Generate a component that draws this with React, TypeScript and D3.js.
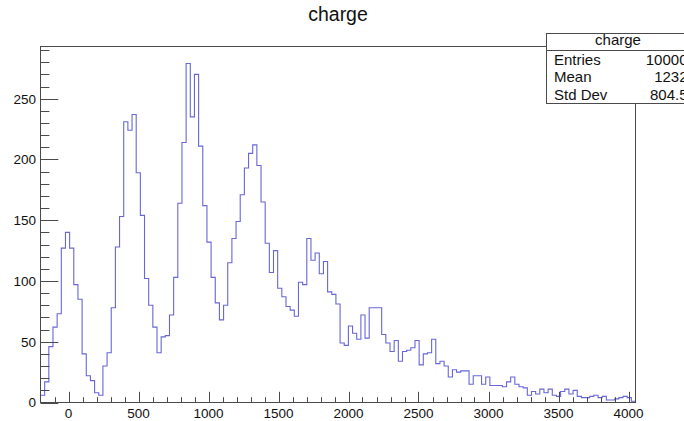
import React from "react";
import * as d3 from "d3";

const histTitle = "charge";
const xMin = -200;
const xMax = 4050;
const counts = [
  6, 17, 46, 62, 73, 127, 140, 127, 97, 85,
  40, 22, 18, 8, 6, 30, 41, 78, 128, 153,
  231, 224, 237, 189, 154, 102, 80, 62, 41, 54,
  55, 72, 103, 164, 214, 279, 235, 270, 211, 162,
  132, 103, 82, 68, 80, 115, 135, 149, 171, 193,
  205, 212, 195, 165, 131, 107, 125, 94, 87, 79,
  76, 71, 99, 97, 135, 117, 123, 106, 116, 91,
  89, 81, 49, 47, 63, 57, 52, 72, 53, 78,
  78, 78, 56, 49, 42, 51, 34, 42, 43, 45,
  51, 31, 40, 41, 52, 32, 34, 30, 21, 27,
  25, 26, 26, 15, 22, 22, 15, 21, 14, 14,
  14, 13, 17, 21, 15, 13, 12, 6, 9, 7,
  11, 8, 11, 6, 5, 9, 11, 7, 10, 5,
  4, 4, 5, 6, 4, 5, 2, 2, 3, 4,
  5, 4, 1,
];
const xMajorTicks = [0, 500, 1000, 1500, 2000, 2500, 3000, 3500, 4000];
const yMajorTicks = [0, 50, 100, 150, 200, 250];
const statLabels = ["Entries", "Mean", "Std Dev"];
const statValues = ["10000", "1232", "804.5"];

const FONT = "'Liberation Sans', Arial, Helvetica, sans-serif";

export default function App() {
  const W = 684;
  const H = 421;
  const fl = 40.5, fr = 635.5, ft = 46.5, fb = 402.5;

  const x = d3.scaleLinear().domain([xMin, xMax]).range([fl, fr]);
  const yTop = (d3.max(counts) as number) * 1.05;
  const y = d3.scaleLinear().domain([0, yTop]).range([fb, ft]);

  const n = counts.length;
  const bw = (xMax - xMin) / n;
  const pts: [number, number][] = counts.map((c, i) => [xMin + i * bw, c]);
  pts.push([xMax, counts[n - 1]]);
  const line = d3
    .line<[number, number]>()
    .x((d) => x(d[0]))
    .y((d) => y(d[1]))
    .curve(d3.curveStepAfter);
  const pathD =
    `M${x(xMin)},${y(0)}L` + (line(pts) as string).slice(1) + `L${x(xMax)},${y(0)}`;

  const yMajLen = (fr - fl) * 0.03;
  const xMajLen = (fb - ft) * 0.03;
  const yMinor = d3.range(0, yTop, 10).filter((v) => v % 50 !== 0);
  const xMinor = d3.range(-100, xMax, 100).filter((v) => v % 500 !== 0);

  const axisColor = "#4a4a4a";

  return (
    <svg
      width={W}
      height={H}
      style={{ position: "absolute", left: 0, top: 0, background: "#fff" }}
      fontFamily={FONT}
    >
      <rect x={0} y={0} width={W} height={H} fill="#fff" />
      <text x={(fl + fr) / 2} y={20.5} fontSize={19.5} textAnchor="middle" fill="#111">
        {histTitle}
      </text>

      <path d={pathD} fill="none" stroke="#6767d8" strokeWidth={1.1} />

      <rect x={fl} y={ft} width={fr - fl} height={fb - ft} fill="none" stroke={axisColor} strokeWidth={1} />

      {yMajorTicks.map((v) => (
        <g key={"ym" + v}>
          <line x1={fl} x2={fl + yMajLen} y1={Math.round(y(v)) + 0.5} y2={Math.round(y(v)) + 0.5} stroke={axisColor} />
          <text x={36} y={y(v)} dy="0.36em" fontSize={13.5} textAnchor="end" fill="#111">
            {v}
          </text>
        </g>
      ))}
      {yMinor.map((v) => (
        <line key={"yn" + v} x1={fl} x2={fl + yMajLen / 2} y1={Math.round(y(v)) + 0.5} y2={Math.round(y(v)) + 0.5} stroke={axisColor} />
      ))}

      {xMajorTicks.map((v) => (
        <g key={"xm" + v}>
          <line x1={Math.round(x(v)) + 0.5} x2={Math.round(x(v)) + 0.5} y1={fb} y2={fb - xMajLen} stroke={axisColor} />
          <text x={x(v)} y={417.5} fontSize={13.5} textAnchor="middle" fill="#111">
            {v}
          </text>
        </g>
      ))}
      {xMinor.map((v) => (
        <line key={"xn" + v} x1={Math.round(x(v)) + 0.5} x2={Math.round(x(v)) + 0.5} y1={fb} y2={fb - xMajLen / 2} stroke={axisColor} />
      ))}

      <rect x={546.5} y={33.5} width={150} height={70} fill="#fff" stroke={axisColor} strokeWidth={1} />
      <line x1={546.5} x2={700} y1={50.5} y2={50.5} stroke={axisColor} />
      <text x={618} y={45} fontSize={15} textAnchor="middle" fill="#111">
        {histTitle}
      </text>
      {statLabels.map((s, i) => (
        <text key={s} x={554} y={64.5 + i * 17.5} fontSize={15} fill="#111">
          {s}
        </text>
      ))}
      {statValues.map((s, i) => (
        <text key={s} x={687.5} y={64.5 + i * 17.5} fontSize={15} textAnchor="end" fill="#111">
          {s}
        </text>
      ))}
    </svg>
  );
}
